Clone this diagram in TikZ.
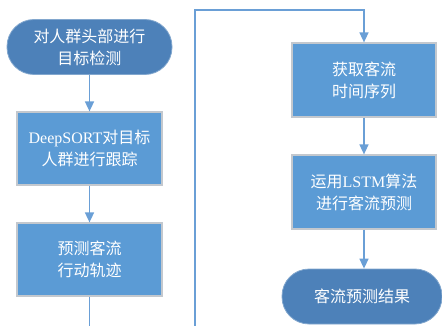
\documentclass[tikz,border=0pt]{standalone}
\usepackage{fontspec}
\setmainfont{Liberation Serif}
\newfontfamily\cjk{Noto Sans CJK SC}
\usetikzlibrary{arrows.meta,calc}
\definecolor{termblue}{HTML}{4D81B9}
\definecolor{boxblue}{HTML}{5B9BD5}
\definecolor{linkblue}{HTML}{6A9FD6}
\definecolor{edgegray}{HTML}{C3C8CE}
\begin{document}
\begin{tikzpicture}[x=1pt,y=-1pt,
  txt/.style={text=white,align=center,font=\fontsize{16}{22}\selectfont\cjk},
  term/.style={txt,fill=termblue,draw=termblue!70!white,line width=0.8pt,rounded corners=27pt,minimum height=55pt,inner sep=0pt},
  stepbox/.style={txt,fill=boxblue,draw=edgegray,line width=1.2pt,minimum width=145pt,minimum height=73pt,inner sep=0pt},
  link/.style={draw=linkblue,line width=1.5pt},
  arr/.style={link,-{Triangle[width=9pt,length=10pt]}}]
\useasboundingbox (0,0) rectangle (442,326);
\node[term,minimum width=165pt] (t1) at (89.5,47) {对人群头部进行\\目标检测};
\node[stepbox] (b2) at (89.5,148.5) {{\fontspec{Liberation Serif}DeepSORT}对目标\\人群进行跟踪};
\node[stepbox] (b3) at (89.5,259.5) {预测客流\\行动轨迹};
\node[stepbox,minimum width=144pt,minimum height=74pt] (b4) at (364,80) {获取客流\\时间序列};
\node[stepbox,minimum width=144pt,minimum height=74pt] (b5) at (364,192) {运用{\fontspec{Liberation Serif}LSTM}算法\\进行客流预测};
\node[term,minimum width=160pt] (t2) at (362,296.5) {客流预测结果};
\coordinate (e1) at (89.5,330);
\coordinate (e2) at (195,330);
\coordinate (c1) at (195,10);
\draw[arr] (t1.south) -- (b2.north);
\draw[arr] (b2.south) -- (b3.north);
\draw[link] (b3.south) -- (e1);
\draw[arr] (e2) -- (c1) -| (b4.north);
\draw[arr] (b4.south) -- (b5.north);
\draw[arr] (b5.south) -- (b5.south |- t2.north);
\end{tikzpicture}
\end{document}
